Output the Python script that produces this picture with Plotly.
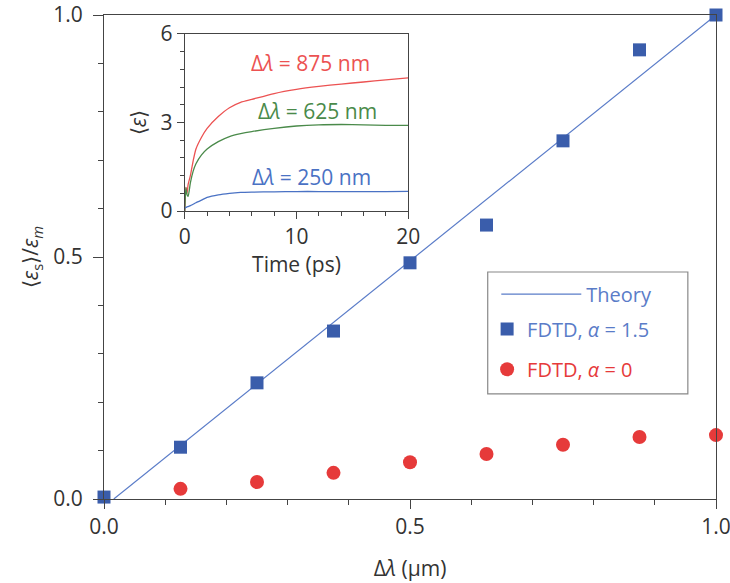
import plotly.graph_objects as go

# Main panel: normalised energy vs wavelength separation
dl_um = [0.0, 0.125, 0.25, 0.375, 0.5, 0.625, 0.75, 0.875, 1.0]
fdtd_a15 = [0.004, 0.107, 0.240, 0.347, 0.488, 0.566, 0.740, 0.928, 1.0]
fdtd_a0 = [-0.002, 0.021, 0.035, 0.054, 0.076, 0.093, 0.112, 0.128, 0.132]
theory_x = [0.016, 1.0]
theory_y = [0.0, 1.0]

# Inset: mean energy vs time
t_ps = [0, 0.1, 0.2, 0.3, 0.5, 0.75, 1, 1.5, 2, 3, 4, 5, 6, 8, 10, 12, 14, 16, 18, 20]
e_875 = [0, 0.8, 0.6, 0.9, 1.2, 1.7, 2.1, 2.5, 2.8, 3.2, 3.5, 3.68, 3.78, 3.98,
         4.12, 4.22, 4.3, 4.37, 4.44, 4.51]
e_625 = [0, 0.8, 0.55, 0.5, 0.95, 1.35, 1.6, 1.9, 2.1, 2.35, 2.52, 2.62, 2.69, 2.8,
         2.88, 2.92, 2.93, 2.92, 2.9, 2.9]
e_250 = [0.1, 0.12, 0.14, 0.15, 0.18, 0.23, 0.28, 0.37, 0.46, 0.55, 0.6, 0.63, 0.64,
         0.65, 0.66, 0.66, 0.66, 0.66, 0.66, 0.665]

BLUE = "#3a5dab"
BLUE_LINE = "#5a7cc8"
RED = "#e63a3a"
FONT = "Open Sans"
AXIS = "#444444"
TXT = "#333333"

fig = go.Figure()

fig.add_trace(go.Scatter(
    x=theory_x, y=theory_y, mode="lines", name="Theory",
    line=dict(color=BLUE_LINE, width=1.2), legend="legend", cliponaxis=False))
fig.add_trace(go.Scatter(
    x=dl_um, y=fdtd_a0, mode="markers", name="FDTD, <i>α</i> = 0",
    marker=dict(symbol="circle", size=14, color=RED), legend="legend3",
    cliponaxis=False))
fig.add_trace(go.Scatter(
    x=dl_um, y=fdtd_a15, mode="markers", name="FDTD, <i>α</i> = 1.5",
    marker=dict(symbol="square", size=13, color=BLUE), legend="legend2",
    cliponaxis=False))

inset = [(e_875, "#ec5252"), (e_625, "#4a8a4a"), (e_250, "#4a72c4")]
for vals, col in inset:
    fig.add_trace(go.Scatter(
        x=t_ps, y=vals, mode="lines", xaxis="x2", yaxis="y2", showlegend=False,
        line=dict(color=col, width=1.3, shape="spline", smoothing=0.6)))

tickfont = dict(family=FONT, size=21, color=TXT)


def axis_style(**kw):
    base = dict(ticks="outside", tickcolor=AXIS, tickfont=tickfont,
                showline=True, linecolor=AXIS, mirror=True,
                showgrid=False, zeroline=False, automargin=False,
                ticklabeloverflow="allow")
    base.update(kw)
    return base


fig.update_layout(
    width=730, height=583,
    margin=dict(l=104, r=14, t=15, b=84),
    paper_bgcolor="white", plot_bgcolor="white",
    font=dict(family=FONT, size=21, color=TXT),
    xaxis=axis_style(
        range=[0, 1], tickvals=[0, 0.5, 1.0], tickformat=".1f", ticklen=9,
        linewidth=1.2,
        minor=dict(dtick=0.1, ticks="outside", ticklen=5, tickcolor=AXIS),
        title=dict(text="Δ<i>λ</i> (μm)", standoff=22,
                   font=dict(family=FONT, size=21, color=TXT))),
    yaxis=axis_style(
        range=[0, 1], tickvals=[0, 0.5, 1.0], tickformat=".1f", ticklen=10,
        ticklabelstandoff=6, linewidth=1.2,
        minor=dict(dtick=0.1, ticks="outside", ticklen=5, tickcolor=AXIS),
        title=dict(text="⟨<i>ε</i><sub>s</sub>⟩/<i>ε</i><sub><i>m</i></sub>",
                   standoff=8,
                   font=dict(family=FONT, size=21, color=TXT))),
    xaxis2=axis_style(
        domain=[0.132, 0.497], anchor="y2", range=[0, 20], dtick=10, ticklen=7,
        linewidth=1.1,
        minor=dict(dtick=2, ticks="outside", ticklen=4, tickcolor=AXIS),
        title=dict(text="Time (ps)", standoff=0,
                   font=dict(family=FONT, size=21, color=TXT))),
    yaxis2=axis_style(
        domain=[0.595, 0.961], anchor="x2", range=[0, 6], dtick=3, ticklen=7,
        linewidth=1.1,
        minor=dict(dtick=0.6, ticks="outside", ticklen=4, tickcolor=AXIS),
        title=dict(text="⟨<i>ε</i>⟩", standoff=8,
                   font=dict(family=FONT, size=21, color=TXT))),
    legend=dict(x=0.641, y=0.4235, xanchor="left", yanchor="middle",
                bgcolor="rgba(0,0,0,0)", itemwidth=80,
                font=dict(family=FONT, size=20, color=BLUE_LINE)),
    legend2=dict(x=0.626, y=0.351, xanchor="left", yanchor="middle",
                 bgcolor="rgba(0,0,0,0)", itemwidth=30,
                 font=dict(family=FONT, size=20, color=BLUE_LINE)),
    legend3=dict(x=0.626, y=0.268, xanchor="left", yanchor="middle",
                 bgcolor="rgba(0,0,0,0)", itemwidth=30,
                 font=dict(family=FONT, size=20, color=RED)),
    shapes=[dict(type="rect", xref="paper", yref="paper",
                 x0=0.627, x1=0.954, y0=0.217, y1=0.469,
                 line=dict(color="#888888", width=1.2))],
    annotations=[
        dict(x=11.3, y=5.03, xref="x2", yref="y2", text="Δ<i>λ</i> = 875 nm",
             showarrow=False, font=dict(family=FONT, size=21, color="#ec5252")),
        dict(x=11.85, y=3.4, xref="x2", yref="y2", text="Δ<i>λ</i> = 625 nm",
             showarrow=False, font=dict(family=FONT, size=21, color="#4a8a4a")),
        dict(x=11.35, y=1.15, xref="x2", yref="y2", text="Δ<i>λ</i> = 250 nm",
             showarrow=False, font=dict(family=FONT, size=21, color="#4a72c4")),
    ],
)

fig.write_html("out.html")
